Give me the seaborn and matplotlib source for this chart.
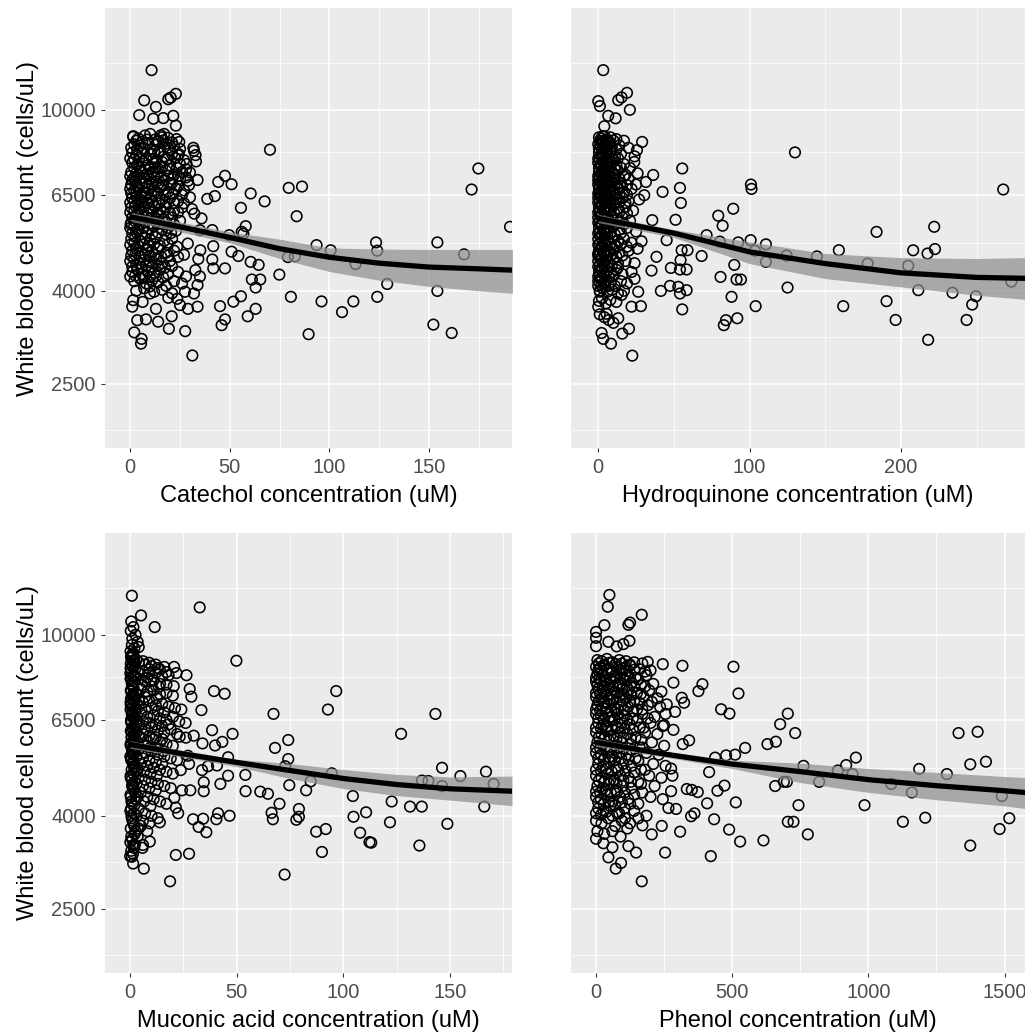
import numpy as np
import pandas as pd
import matplotlib
matplotlib.use("Agg")
import matplotlib.pyplot as plt
import seaborn as sns
from matplotlib.ticker import FixedLocator, NullFormatter

# ---------------- data ----------------
y_ticks = [2500, 4000, 6500, 10000]
y_tick_labels = ["2500", "4000", "6500", "10000"]
y_minor = [1976, 3162, 5099, 8062, 12700]

# Catechol
catechol_sparse = [
    (70.2, 8170), (174.9, 7430), (171.5, 6680), (190.8, 5530), (79.6, 6735), (86.3, 6780),
    (83.6, 5834), (67.5, 6290), (60.5, 6546), (55.6, 6088), (47.6, 7159), (50.9, 6860),
    (44.2, 6940), (42.5, 6460), (38.7, 6370), (33.8, 7010), (32, 8130), (33, 7700),
    (58, 5548), (56, 5390), (49.7, 5300), (50.9, 4876), (54.3, 4770), (41.7, 5013),
    (41.2, 4685), (41.7, 4480), (47.6, 4480), (60.5, 4630), (64.5, 4560), (61.1, 4234),
    (65.3, 4234), (63, 4066), (74.9, 4340), (79.2, 4744), (82.7, 4760), (93.6, 5040),
    (100.7, 4910), (113.2, 4580), (123.5, 5110), (124.1, 4900), (129.1, 4140), (154.3, 5110),
    (167.7, 4810), (154.3, 3997), (80.7, 3879), (96.1, 3790), (112.1, 3790), (106.4, 3590),
    (124.1, 3879), (89.6, 3210), (152.3, 3370), (161.5, 3230), (51.8, 3785), (55.6, 3890),
    (59, 3515), (63, 3650), (45.1, 3700), (47.6, 3460), (45.9, 3360), (31.2, 2882),
    (27.6, 3260), (33.8, 3690), (29, 3650), (32, 3945), (32.7, 4440), (35.2, 4910),
    (34.2, 4700), (35, 5436), (35.8, 5770), (32.2, 5910), (35, 4300), (33.8, 4117),
    (28.9, 5080), (56.8, 5340), (41.2, 5440),
    (10.7, 12226), (22.9, 10844), (7, 10490), (19.1, 10550), (20.3, 10640), (12.9, 10150),
    (4.5, 9735), (11.6, 9560), (16.6, 9590), (21.6, 9700), (22.9, 9230), (1.5, 8750),
    (15.4, 8790), (24.6, 8500), (24.4, 7990), (1.5, 3814), (2, 3240), (5.7, 3135),
    (5.4, 3060), (3.5, 3446), (7.9, 3460), (14, 3420), (19.4, 3300), (20.8, 3515),
    (12.9, 3650), (1, 3690), (6.2, 3780), (25, 3720), (23.6, 3840), (19.1, 3860),
    (27.5, 3980), (9.9, 3945), (0.2, 5600), (9.9, 4090),
]
catechol_core = [
    (1.5, 8720), (4, 8650), (7.4, 8780), (12.4, 8600), (15.7, 8700), (19, 8680), (23.3, 8620), (10, 8850), (17, 8850),
    (2, 8400), (5, 8350), (9, 8450), (13, 8380), (18, 8420), (22, 8300), (31.7, 8250), (11, 8200), (20, 8150),
    (1, 8050), (3, 7950), (6, 8020), (10, 7980), (14, 8060), (17, 7900), (21, 8000), (24, 7950), (32.8, 7950),
    (1, 7650), (3.5, 7580), (6, 7700), (9, 7560), (12, 7620), (16, 7680), (20, 7550), (25, 7600), (28.3, 7600), (7.5, 7450), (14, 7420),
    (0.5, 7300), (3, 7250), (5.5, 7350), (8, 7200), (11, 7300), (14, 7250), (18, 7350), (22, 7200), (26, 7300), (30, 7280),
    (1, 7000), (2.5, 6950), (5, 7050), (7.5, 6900), (10, 7020), (13, 6950), (17, 7000), (21, 6900), (25, 7050), (29, 6980), (19, 7150),
    (0, 6700), (2, 6650), (4, 6750), (6.5, 6600), (9, 6700), (12, 6650), (15, 6750), (19, 6600), (23, 6700), (27, 6650), (11, 6850),
    (1, 6400), (3, 6450), (5, 6350), (7, 6420), (10, 6380), (13, 6450), (16, 6350), (20, 6400), (24, 6300), (30, 6420),
    (0.5, 6100), (2.5, 6150), (4.5, 6050), (7, 6120), (9.5, 6080), (12, 6150), (15, 6050), (18, 6120), (22, 6000), (26, 6100), (31, 6050),
    (1, 5800), (3, 5850), (5.5, 5750), (8, 5820), (11, 5780), (14, 5850), (17, 5750), (21, 5800), (25, 5700),
    (0, 5500), (2, 5550), (4, 5450), (6.5, 5520), (9, 5480), (12, 5550), (16, 5450), (19, 5500), (23, 5420),
    (0.5, 5200), (2.5, 5250), (5, 5150), (7.5, 5220), (10, 5180), (13, 5250), (17, 5150), (21, 5200),
    (1, 4900), (3, 4950), (6, 4850), (8.5, 4920), (11, 4880), (14, 4950), (18, 4850), (22, 4900), (27, 4800),
    (0, 4650), (2, 4700), (4.5, 4600), (7, 4680), (10, 4620), (13, 4700), (16, 4600), (20, 4650),
    (1, 4400), (3.5, 4450), (6, 4350), (9, 4420), (12, 4380), (15, 4450), (19, 4350), (24, 4400), (28, 4300),
    (2, 4200), (5, 4250), (8, 4150), (11, 4220), (14, 4180), (18, 4100), (22, 4200), (26, 4150),
    (3, 4000), (7, 4050), (12, 3980), (16, 4020), (21, 3950),
]
catechol_core2 = [
    (3, 8550), (6, 8500), (8.5, 8600), (14, 8520), (16.5, 8560), (21, 8480),
    (0.5, 8250), (3.5, 8180), (7, 8230), (12, 8100), (15, 8150), (19, 8250), (25, 8200),
    (0, 7820), (2, 7780), (4.5, 7850), (8, 7760), (11.5, 7800), (13, 7720), (18.5, 7780), (22.5, 7830), (27, 7750),
    (2, 7450), (4.5, 7480), (10, 7430), (12.5, 7470), (16, 7500), (19.5, 7420), (23.5, 7460), (28, 7400),
    (0, 7150), (2, 7100), (4, 7180), (6.5, 7080), (9, 7150), (12, 7120), (15.5, 7100), (21, 7050), (24, 7150), (28, 7100),
    (0.5, 6850), (3.5, 6820), (6, 6880), (8.5, 6800), (14, 6870), (16.5, 6820), (20, 6880), (24, 6800), (29.5, 6830),
    (0.5, 6550), (3, 6560), (5, 6500), (8, 6540), (10.5, 6520), (14, 6560), (17.5, 6500), (21.5, 6540), (26, 6500),
    (0, 6250), (2, 6280), (4, 6230), (6, 6260), (8.5, 6240), (11, 6270), (14.5, 6220), (18, 6260), (22, 6240), (27, 6230),
    (0, 5950), (2, 5980), (4, 5920), (6, 5960), (8.5, 5930), (10.5, 5990), (13.5, 5940), (16.5, 5960), (20, 5920), (24, 5950),
    (0.5, 5650), (2.5, 5680), (4.5, 5620), (7, 5660), (10, 5630), (13, 5680), (15, 5620), (18, 5650), (22, 5600),
    (1, 5350), (3, 5380), (5.5, 5320), (8, 5360), (11, 5330), (14, 5370), (18, 5320), (20.5, 5360),
    (0, 5050), (2, 5080), (4, 5020), (6.5, 5060), (9, 5030), (12, 5070), (15, 5020), (19, 5060), (23.5, 5000),
    (0.5, 4780), (2.5, 4800), (5, 4760), (7.5, 4790), (9.5, 4770), (12, 4800), (15.5, 4760), (19, 4780), (24, 4750),
    (1, 4520), (3, 4550), (5.5, 4500), (8, 4530), (11, 4510), (14, 4540), (17.5, 4500), (21, 4530),
    (0, 4300), (2.5, 4320), (4.5, 4280), (7, 4300), (10, 4290), (13, 4310), (16.5, 4280),
]
catechol_fit_x = [0.7, 25, 50, 75, 100, 125, 150, 175, 192]
catechol_fit_y = [5810, 5530, 5240, 4950, 4740, 4600, 4510, 4470, 4440]
catechol_fit_lo = [5680, 5390, 5100, 4710, 4410, 4220, 4090, 4000, 3950]
catechol_fit_hi = [5940, 5670, 5390, 5195, 4970, 4940, 4930, 4930, 4930]

# Hydroquinone
hydroquinone_sparse = [
    (130, 8060), (267.6, 6680), (55.5, 7430), (54, 6735), (54.6, 6240), (42.5, 6600),
    (36.3, 7190), (51.1, 5730), (35.7, 5719), (100.9, 6850), (101.3, 6700), (89.2, 6060),
    (79.3, 5850), (82.2, 5560), (71.6, 5300), (80.4, 5130), (92.5, 5110), (100.7, 5168),
    (110.8, 5060), (103.5, 4900), (68.3, 4770), (89.9, 4560), (110.8, 4630), (124.4, 4780),
    (144.5, 4760), (159, 4912), (183.9, 5390), (178, 4590), (208.1, 4910), (217.6, 4830),
    (222.5, 4940), (222, 5530), (204.8, 4540), (211.5, 4012), (234.1, 3960), (249.6, 3890),
    (247.1, 3730), (243.4, 3450), (218, 3120), (196.5, 3450), (190.5, 3795), (161.9, 3700),
    (125.1, 4066), (104, 3700), (88.1, 3879), (80.8, 4290), (91.4, 4234), (94.3, 4234),
    (91.9, 3480), (84.4, 3446), (83, 3360), (55.5, 3640), (54, 3945), (58.4, 4012),
    (52.9, 4080), (47.4, 4100), (41.4, 3997), (48, 4490), (54, 4455), (58.4, 4455),
    (54.4, 4670), (55.1, 4912), (59, 4912), (38.5, 4750), (45.2, 5168), (273, 4190),
    (31.5, 6940), (29, 8500), (25.6, 8152), (23.8, 7680), (19, 10900), (20.9, 10000),
    (13.2, 10500), (15.4, 10650), (3.3, 12226), (0, 10450), (1.1, 10190), (6.6, 9700),
    (11.5, 9580), (4, 9200), (2.9, 8750), (8.4, 3060), (22.5, 2880), (2.2, 3230),
    (3.3, 3135), (15.9, 3220), (20.3, 3300), (22, 3690), (28.2, 3700), (26.4, 3980),
    (15.4, 3915), (0, 3690), (1.1, 3980), (5.5, 3560), (13.2, 3480), (0, 4830),
    (35.2, 4430), (30.4, 6490), (28.6, 5140),
]
hydroquinone_core = [
    (0.5, 8700), (2, 8650), (4, 8750), (6, 8600), (8, 8700), (12, 8620), (17, 8550),
    (0, 8400), (1.5, 8350), (3, 8450), (5, 8380), (7, 8420), (9, 8300), (14, 8350), (20, 8250),
    (0.5, 8050), (2, 7950), (3.5, 8020), (5.5, 7980), (8, 8060), (11, 7900), (15, 8000), (24, 7900),
    (0, 7650), (1.5, 7580), (3, 7700), (4.5, 7560), (6.5, 7620), (9, 7680), (12, 7550), (17, 7600), (21, 7450),
    (0.5, 7300), (2, 7250), (3.5, 7350), (5, 7200), (7, 7300), (10, 7250), (13, 7350), (18, 7200), (26, 7250),
    (0, 7000), (1.5, 6950), (3, 7050), (4.5, 6900), (6, 7020), (8.5, 6950), (11, 7000), (15, 6900), (20, 7050), (25, 6850),
    (0.5, 6700), (2, 6650), (3.5, 6750), (5, 6600), (7, 6700), (9.5, 6650), (13, 6750), (17, 6600), (22, 6700),
    (0, 6400), (1.5, 6450), (3, 6350), (4.5, 6420), (6.5, 6380), (9, 6450), (12, 6350), (16, 6400), (20, 6300), (27, 6350),
    (0.5, 6100), (2, 6150), (3.5, 6050), (5, 6120), (7, 6080), (10, 6150), (13, 6050), (18, 6120), (23, 6000),
    (0, 5800), (1.5, 5850), (3, 5750), (4.5, 5820), (6.5, 5780), (9, 5850), (12, 5750), (16, 5800), (21, 5700),
    (0.5, 5500), (2, 5550), (3.5, 5450), (5, 5520), (7, 5480), (10, 5550), (14, 5450), (19, 5500), (25, 5400),
    (0, 5200), (1.5, 5250), (3, 5150), (4.5, 5220), (6.5, 5180), (9, 5250), (13, 5150), (17, 5200), (22, 5100),
    (0.5, 4900), (2, 4950), (3.5, 4850), (5, 4920), (7.5, 4880), (10, 4950), (14, 4850), (20, 4900), (26, 4950),
    (0, 4650), (1.5, 4700), (3, 4600), (5, 4680), (7, 4620), (10, 4700), (13, 4600), (18, 4650), (24, 4600),
    (0.5, 4400), (2, 4450), (4, 4350), (6, 4420), (8.5, 4380), (12, 4450), (16, 4350), (22, 4400),
    (0, 4200), (1.5, 4250), (3.5, 4150), (5.5, 4220), (8, 4180), (11, 4100), (15, 4200), (19, 4150), (24, 4250),
    (1, 4000), (3, 4050), (6, 3980), (9, 4020), (13, 3950), (17, 4000),
    (0.5, 3800), (2.5, 3850), (5, 3750), (8, 3820), (12, 3780),
    (1, 3550), (4, 3500), (7, 3450), (10, 3400),
]
hydroquinone_core2 = [
    (1, 8550), (3, 8520), (5, 8580), (7.5, 8500), (10, 8560),
    (0.5, 8220), (2.5, 8180), (4, 8250), (6, 8150), (8.5, 8200), (12, 8180),
    (0, 7820), (1, 7780), (2.5, 7850), (4.5, 7760), (6, 7800), (7.5, 7720), (10, 7780), (13, 7830),
    (0.5, 7450), (2, 7480), (4, 7430), (5.5, 7470), (8, 7500), (11, 7420), (15, 7460),
    (0, 7150), (1, 7100), (2.5, 7180), (4, 7080), (5.5, 7150), (7.5, 7120), (10, 7100), (14, 7050), (17, 7150),
    (0, 6850), (1, 6820), (2.5, 6880), (4, 6800), (6, 6870), (8, 6820), (11, 6880), (14.5, 6800), (19, 6830),
    (0, 6550), (1, 6560), (2.5, 6500), (4, 6540), (6, 6520), (8, 6560), (11, 6500), (14, 6540), (19, 6500),
    (0, 6250), (1, 6280), (2.5, 6230), (4, 6260), (5.5, 6240), (8, 6270), (10.5, 6220), (14, 6260), (18, 6240),
    (0, 5950), (1, 5980), (2.5, 5920), (4, 5960), (5.5, 5930), (8, 5990), (10.5, 5940), (14, 5960), (19, 5920),
    (0, 5650), (1, 5680), (2.5, 5620), (4, 5660), (6, 5630), (8, 5680), (11, 5620), (14, 5650), (17, 5600),
    (0, 5350), (1, 5380), (2.5, 5320), (4, 5360), (6, 5330), (8, 5370), (11, 5320), (15, 5360),
    (0, 5050), (1, 5080), (2.5, 5020), (4, 5060), (5.5, 5030), (8, 5070), (11, 5020), (15, 5060), (19, 5000),
    (0, 4780), (1, 4800), (2.5, 4760), (4, 4790), (6, 4770), (8.5, 4800), (12, 4760), (16, 4780),
    (0, 4520), (1, 4550), (2.5, 4500), (4, 4530), (6, 4510), (9, 4540), (13, 4500),
    (0, 4300), (1, 4320), (2.5, 4280), (4.5, 4300), (7, 4290), (10, 4310),
    (0, 4100), (2, 4120), (4.5, 4080), (7, 4100),
]
hydroquinone_fit_x = [0, 50, 100, 150, 200, 250, 282]
hydroquinone_fit_y = [5770, 5355, 4870, 4590, 4380, 4280, 4260]
hydroquinone_fit_lo = [5650, 5240, 4590, 4255, 4080, 3910, 3830]
hydroquinone_fit_hi = [5890, 5450, 5125, 4830, 4730, 4710, 4730]

# Muconic acid
muconic_sparse = [
    (0.8, 12190), (5.1, 11030), (11.5, 10400), (32.6, 11490), (49.8, 8770), (96.6, 7520),
    (92.7, 6850), (67.2, 6700), (143.1, 6700), (127, 6056), (74.1, 5870), (67.9, 5640),
    (74.1, 5330), (72.7, 5140), (94.5, 4960), (84.6, 4760), (82.5, 4550), (74.6, 4670),
    (61, 4520), (64.6, 4470), (54, 4920), (54.1, 4530), (70, 4250), (66.3, 4060),
    (66.9, 3930), (79.1, 4140), (79.1, 3980), (77.9, 3920), (87.2, 3690), (91.7, 3740),
    (89.9, 3330), (72.4, 2970), (104.4, 4420), (104.7, 3980), (110.6, 4070), (107.8, 3670),
    (112.2, 3500), (113, 3490), (121.8, 3870), (122.6, 4300), (131.2, 4190), (136.7, 4190),
    (135.6, 3440), (148.7, 3840), (146.2, 5100), (146.2, 4650), (136.8, 4780), (139.8, 4770),
    (154.8, 4890), (166.8, 5000), (170.4, 4700), (166, 4190), (38.4, 6170), (48, 6056),
    (39.8, 5710), (43.2, 5815), (39.3, 7520), (44.3, 7420), (33.4, 6830), (27.9, 7600),
    (28.7, 7310), (26.4, 8150), (21.7, 8240), (20.6, 8500), (17, 8280), (20.4, 7710),
    (17, 7770), (13.4, 7690), (13.9, 8400), (8.9, 8680), (9.8, 7920), (45.9, 4900),
    (42.3, 4700), (34.5, 4740), (34.5, 4530), (33.7, 5040), (36.5, 5140), (40.7, 5160),
    (45.9, 5380), (33.9, 5770), (29.8, 6000), (26.1, 5940), (27.1, 5420), (27.6, 5200),
    (23.7, 5040), (23.2, 5970), (28.2, 4550), (24.3, 4550), (20.7, 4380), (21.4, 4170),
    (22.5, 4050), (29.5, 3930), (34.2, 3940), (32.1, 3780), (35.7, 3680), (41.2, 4050),
    (40.4, 3930), (46.6, 4000), (13.9, 3870), (21.4, 3280), (27.6, 3300), (18.7, 2870),
    (6.4, 3060), (1.4, 3140), (0, 3260), (9.2, 3510), (5.8, 3400), (2.2, 3450),
    (0.5, 10700), (1.5, 10400), (0.3, 10200), (2.5, 10000), (1.0, 9800), (3.5, 9650),
    (0.8, 9500), (2.0, 9350), (4.0, 9400),
]
muconic_core = [
    (0.2, 9200), (1.0, 9050), (0.5, 8900), (1.8, 8800), (0.3, 8650), (1.2, 8500), (2.3, 8400),
    (0.6, 8300), (1.5, 8150), (0.2, 8000), (2.0, 7900), (0.8, 7800), (1.6, 7650), (0.3, 7550),
    (2.5, 7450), (1.0, 7350), (0.4, 7250), (1.9, 7150), (0.7, 7050), (1.3, 6950), (0.2, 6850),
    (2.2, 6750), (0.9, 6650), (1.6, 6550), (0.4, 6450), (2.8, 6350), (1.1, 6250), (0.3, 6150),
    (1.9, 6050), (0.6, 5950), (1.4, 5850), (0.2, 5750), (2.4, 5650), (0.9, 5550), (1.7, 5450),
    (0.4, 5350), (1.2, 5250), (2.1, 5150), (0.7, 5050), (1.5, 4950), (0.3, 4850), (2.0, 4750),
    (0.9, 4650), (1.6, 4550), (0.2, 4450), (2.6, 4350), (1.0, 4250), (0.5, 4150), (1.8, 4050),
    (0.8, 3950), (1.4, 3850), (0.3, 3750), (2.2, 3650), (0.9, 3550), (1.5, 3450), (0.5, 3350),
    (1.5, 9120), (0.4, 8970), (2.0, 8720), (0.9, 8580), (0.1, 8230), (2.7, 8070), (1.1, 7720),
    (0.5, 7500), (1.9, 7300), (0.2, 7100), (2.6, 6900), (0.8, 6700), (0.4, 6500), (1.9, 6300),
    (0.7, 6100), (2.2, 5900), (0.3, 5700), (1.1, 5500), (0.5, 5300), (1.9, 5100), (0.2, 4900),
    (1.2, 4700), (2.4, 4500), (0.6, 4300), (0.1, 4100), (1.1, 3900), (2.5, 3700), (0.1, 3500),
    (1.3, 3300),
    (4, 8700), (7, 8600), (10, 8550), (13, 8450), (16, 8500), (6, 8300), (9, 8200), (12, 8250),
    (15, 8100), (18, 8150), (4, 8000), (7, 7900), (11, 7950), (14, 7800), (5, 7600), (8, 7500),
    (11, 7550), (14, 7400), (17, 7450), (20, 7350), (4, 7200), (6, 7100), (9, 7150), (12, 7000),
    (15, 7050), (18, 6950), (21, 6900), (24, 6850), (5, 6700), (8, 6600), (11, 6650), (14, 6550),
    (17, 6500), (20, 6600), (23, 6450), (26, 6400), (4, 6300), (7, 6200), (10, 6250), (13, 6150),
    (16, 6100), (19, 6200), (22, 6050), (5, 5950), (8, 5850), (11, 5900), (14, 5800), (17, 5750),
    (20, 5700), (4, 5600), (7, 5500), (10, 5550), (13, 5450), (16, 5400), (19, 5350), (22, 5300),
    (5, 5200), (8, 5150), (11, 5100), (14, 5050), (17, 5000), (20, 4950), (4, 4850), (7, 4800),
    (10, 4750), (13, 4700), (16, 4650), (19, 4600), (5, 4500), (8, 4400), (11, 4350), (14, 4300),
    (17, 4250), (4, 4150), (7, 4050), (10, 4000), (13, 3950), (5, 3800), (8, 3700), (3.5, 3600),
    (6, 3450),
]
muconic_core2 = [
    (0.6, 9000), (1.4, 8750), (0.2, 8450), (1.7, 8100), (0.9, 7950), (1.4, 7400), (0.3, 7000),
    (1.1, 6800), (2.0, 6600), (0.6, 6400), (1.3, 6200), (2.1, 6000), (0.6, 5800), (1.7, 5600),
    (0.1, 5400), (1.4, 5200), (2.7, 5000), (0.7, 4800), (1.5, 4600), (0.3, 4400), (1.8, 4200),
    (0.6, 4000), (1.9, 3800), (0.5, 3600), (1.8, 3400), (0.8, 3250),
    (3, 8800), (6, 8750), (9, 8400), (12, 8600), (3.5, 8300), (8, 8050), (5.5, 7750), (10, 7700),
    (3, 7400), (7, 7300), (12.5, 7250), (4, 6950), (7, 6850), (10, 6900), (13, 6800), (16, 6750),
    (3, 6500), (6, 6450), (9, 6400), (12, 6350), (15, 6300), (18, 6350), (3, 6100), (6, 6050),
    (9, 6000), (12, 5950), (15, 5900), (3.5, 5800), (6.5, 5700), (9.5, 5650), (12.5, 5600),
    (15.5, 5550), (3, 5400), (6, 5350), (9, 5300), (12, 5250), (15, 5200), (3.5, 5050),
    (6.5, 5000), (9.5, 4950), (12.5, 4900), (3, 4700), (6, 4650), (9, 4600), (12, 4550),
    (3.5, 4400), (6.5, 4300), (9.5, 4200), (3, 4000), (6, 3900), (4, 3750), (9, 3850),
]
muconic_fit_x = [0, 25, 50, 75, 100, 125, 150, 179]
muconic_fit_y = [5740, 5470, 5240, 5030, 4830, 4685, 4585, 4530]
muconic_fit_lo = [5630, 5380, 5130, 4830, 4590, 4430, 4330, 4210]
muconic_fit_hi = [5850, 5570, 5325, 5210, 5055, 4930, 4870, 4890]

# Phenol
phenol_sparse = [
    (49, 12240), (42.9, 11530), (167.8, 11070), (30.6, 10500), (118.8, 10520), (124.9, 10640),
    (0, 10150), (0, 9850), (45.3, 9650), (75.9, 9430), (100.4, 9540), (122.5, 9700), (0, 9440),
    (189.8, 8720), (244.9, 8620), (317.2, 8550), (504.5, 8510), (284.1, 7850), (390.6, 7790),
    (375.9, 7520), (522.9, 7430), (314.7, 7270), (323.3, 7090), (259.6, 7030), (290.2, 6770),
    (459.2, 6860), (489.8, 6710), (704.1, 6710), (676, 6360), (731.1, 6080), (1331, 6080),
    (1401, 6120), (660.1, 5820), (629.4, 5750), (547.4, 5640), (341.7, 5860), (318.4, 5750),
    (284.1, 6180), (249.8, 6330), (437.2, 5370), (477.6, 5430), (510.7, 5450), (415.2, 4990),
    (761.7, 5150), (887.8, 5030), (918.4, 5170), (954, 5370), (941.7, 4940), (1186.6, 5070),
    (1288.3, 4940), (1374, 5190), (1431.6, 5260), (1490, 4420), (1517.3, 3950), (1481.8, 3740),
    (1374, 3440), (1208.7, 3960), (1126.6, 3880), (1159.7, 4500), (1083.8, 4700), (985.8, 4220),
    (819.3, 4750), (777.6, 3640), (743.3, 4220), (725, 3880), (704.1, 3880), (700.5, 4750),
    (689.5, 4750), (657.7, 4650), (614.7, 3530), (529, 3510), (488.6, 3730), (513.1, 4280),
    (471.5, 4660), (445.8, 4540), (433.5, 3930), (421.3, 3260), (407.8, 4260), (373.5, 4510),
    (351.5, 4560), (333.2, 4580), (361.3, 4050), (349.1, 3990), (308.6, 3690), (253.5, 3320),
    (293.9, 4140), (265.7, 4160), (241.2, 3800), (204.5, 3640), (167.8, 2870), (147, 3320),
    (118.8, 3430), (91.8, 3150), (72.3, 3060), (45.3, 3240), (60, 3410), (0, 3560),
    (26.9, 3480), (275.5, 4530), (280.4, 4900), (275.5, 5080), (106.5, 3950), (155.5, 3950),
    (170.2, 3810),
]
phenol_core = [
    (5, 8800), (20, 8750), (40, 8850), (60, 8700), (85, 8800), (110, 8750), (140, 8700), (170, 8650),
    (0, 8500), (15, 8450), (30, 8550), (50, 8400), (75, 8500), (100, 8450), (125, 8550), (160, 8400), (200, 8350),
    (5, 8200), (25, 8150), (45, 8250), (65, 8100), (90, 8200), (115, 8150), (145, 8050), (185, 8150),
    (0, 7900), (18, 7950), (35, 7850), (55, 7900), (80, 7800), (105, 7950), (130, 7850), (165, 7750), (210, 7800),
    (8, 7600), (28, 7550), (48, 7650), (70, 7500), (95, 7600), (120, 7550), (150, 7450), (195, 7550), (240, 7500),
    (0, 7300), (20, 7250), (40, 7350), (62, 7200), (85, 7300), (110, 7250), (140, 7150), (175, 7300), (225, 7250),
    (5, 7000), (25, 6950), (45, 7050), (68, 6900), (92, 7000), (118, 6950), (150, 6850), (190, 7000), (235, 6950),
    (0, 6700), (18, 6650), (38, 6750), (58, 6600), (80, 6700), (105, 6650), (135, 6550), (170, 6700), (215, 6600), (255, 6700),
    (8, 6400), (28, 6350), (50, 6450), (72, 6300), (95, 6400), (125, 6350), (160, 6250), (200, 6400), (245, 6300),
    (0, 6100), (20, 6050), (42, 6150), (65, 6000), (88, 6100), (115, 6050), (145, 5950), (180, 6100), (225, 6050),
    (5, 5800), (25, 5750), (48, 5850), (70, 5700), (95, 5800), (125, 5750), (160, 5650), (205, 5800), (250, 5700),
    (0, 5500), (18, 5450), (40, 5550), (60, 5400), (85, 5500), (112, 5450), (145, 5350), (185, 5500), (230, 5450),
    (8, 5200), (28, 5150), (50, 5250), (75, 5100), (100, 5200), (130, 5150), (165, 5050), (210, 5200), (255, 5150),
    (0, 4900), (20, 4850), (42, 4950), (65, 4800), (90, 4900), (120, 4850), (155, 4750), (195, 4900), (240, 4850),
    (5, 4650), (25, 4600), (48, 4700), (72, 4550), (98, 4650), (130, 4600), (170, 4500), (215, 4650),
    (0, 4400), (18, 4350), (40, 4450), (62, 4300), (88, 4400), (118, 4350), (155, 4250), (200, 4400), (245, 4350),
    (8, 4150), (28, 4100), (52, 4200), (78, 4050), (105, 4150), (140, 4100), (185, 4000),
    (0, 3900), (20, 3850), (45, 3950), (70, 3800), (95, 3900), (125, 3850),
    (5, 3700), (30, 3650), (60, 3700), (90, 3600), (115, 3750),
]
phenol_core2 = [
    (10, 8650), (30, 8600), (50, 8680), (72, 8620), (95, 8650), (125, 8600),
    (8, 8350), (22, 8320), (40, 8380), (60, 8300), (88, 8350), (112, 8320), (140, 8380), (180, 8300),
    (0, 8050), (12, 8020), (32, 8080), (52, 8000), (75, 8050), (100, 8020), (125, 8050), (155, 7980),
    (5, 7750), (25, 7720), (42, 7780), (62, 7700), (88, 7750), (112, 7720), (140, 7680), (180, 7700),
    (0, 7450), (15, 7420), (35, 7480), (55, 7400), (78, 7450), (100, 7420), (130, 7380), (165, 7420),
    (10, 7150), (30, 7120), (50, 7180), (75, 7100), (98, 7150), (125, 7100), (160, 7080), (205, 7120),
    (0, 6850), (15, 6820), (35, 6880), (55, 6800), (80, 6850), (105, 6820), (135, 6780), (170, 6850),
    (8, 6550), (28, 6520), (48, 6580), (68, 6500), (90, 6550), (115, 6520), (150, 6480), (190, 6550),
    (0, 6250), (18, 6220), (38, 6280), (58, 6200), (80, 6250), (105, 6220), (135, 6180), (175, 6250),
    (10, 5950), (30, 5920), (52, 5980), (75, 5900), (100, 5950), (128, 5920), (165, 5880),
    (0, 5650), (15, 5620), (35, 5680), (55, 5600), (78, 5650), (100, 5620), (132, 5580), (170, 5650),
    (8, 5350), (28, 5320), (48, 5380), (70, 5300), (92, 5350), (120, 5320), (155, 5280),
    (0, 5050), (18, 5020), (38, 5080), (58, 5000), (82, 5050), (108, 5020), (140, 4980), (180, 5050),
    (10, 4780), (30, 4750), (52, 4800), (75, 4720), (100, 4780), (128, 4750), (165, 4700),
    (0, 4520), (15, 4500), (35, 4550), (55, 4480), (78, 4520), (105, 4500), (140, 4450),
    (8, 4280), (28, 4250), (48, 4300), (70, 4220), (95, 4280), (125, 4250),
    (0, 4050), (18, 4020), (38, 4080), (60, 4000), (85, 4050),
]
phenol_fit_x = [0, 253, 501, 752, 1003, 1255, 1500, 1576]
phenol_fit_y = [5800, 5465, 5195, 5000, 4800, 4655, 4540, 4500]
phenol_fit_lo = [5680, 5385, 5080, 4730, 4500, 4335, 4205, 4150]
phenol_fit_hi = [5920, 5545, 5300, 5220, 5080, 4980, 4880, 4855]

# ---------------- figure ----------------
sns.set_theme(style="darkgrid")
plt.rcParams["font.family"] = ["Liberation Sans", "DejaVu Sans"]

W, H = 1025, 1033
fig = plt.figure(figsize=(W / 100, H / 100), dpi=100)
fig.patch.set_facecolor("white")

def rect(l, t, r, b):
    return [l / W, 1 - b / H, (r - l) / W, (b - t) / H]

panels = [
    dict(pts=catechol_sparse + catechol_core + catechol_core2, fx=catechol_fit_x, fy=catechol_fit_y,
         lo=catechol_fit_lo, hi=catechol_fit_hi, xlim=(-12.7, 191.8),
         xt=[0, 50, 100, 150], xm=[25, 75, 125, 175],
         xlabel="Catechol concentration (uM)", box=(105, 8, 512, 448), left=True),
    dict(pts=hydroquinone_sparse + hydroquinone_core + hydroquinone_core2, fx=hydroquinone_fit_x,
         fy=hydroquinone_fit_y, lo=hydroquinone_fit_lo, hi=hydroquinone_fit_hi, xlim=(-18, 282),
         xt=[0, 100, 200], xm=[50, 150, 250],
         xlabel="Hydroquinone concentration (uM)", box=(571, 8, 1025, 448), left=False),
    dict(pts=muconic_sparse + muconic_core + muconic_core2, fx=muconic_fit_x, fy=muconic_fit_y,
         lo=muconic_fit_lo, hi=muconic_fit_hi, xlim=(-11.8, 179),
         xt=[0, 50, 100, 150], xm=[25, 75, 125, 175],
         xlabel="Muconic acid concentration (uM)", box=(105, 533, 512, 973), left=True),
    dict(pts=phenol_sparse + phenol_core + phenol_core2, fx=phenol_fit_x, fy=phenol_fit_y,
         lo=phenol_fit_lo, hi=phenol_fit_hi, xlim=(-92, 1575),
         xt=[0, 500, 1000, 1500], xm=[250, 750, 1250],
         xlabel="Phenol concentration (uM)", box=(571, 533, 1025, 973), left=False),
]

for p in panels:
    ax = fig.add_axes(rect(*p["box"]))
    df = pd.DataFrame(p["pts"], columns=["conc", "wbc"])
    sns.scatterplot(data=df, x="conc", y="wbc", ax=ax, marker="o", s=58,
                    color="black", facecolors="none", edgecolor="black",
                    linewidth=1.15, zorder=3)
    ax.fill_between(p["fx"], p["lo"], p["hi"], color="#8e8e8e", alpha=0.72,
                    linewidth=0, zorder=4)
    fit = pd.DataFrame({"conc": p["fx"], "wbc": p["fy"]})
    sns.lineplot(data=fit, x="conc", y="wbc", ax=ax, color="black",
                 linewidth=3.8, estimator=None, sort=False, zorder=5)

    ax.set_yscale("log")
    ax.set_ylim(1804, 16747)
    ax.set_xlim(*p["xlim"])
    ax.set_facecolor("#EBEBEB")
    for s in ax.spines.values():
        s.set_visible(False)

    ax.yaxis.set_major_locator(FixedLocator(y_ticks))
    ax.set_yticklabels(y_tick_labels)
    ax.yaxis.set_minor_locator(FixedLocator(y_minor))
    ax.yaxis.set_minor_formatter(NullFormatter())
    ax.xaxis.set_major_locator(FixedLocator(p["xt"]))
    ax.set_xticklabels([str(v) for v in p["xt"]])
    ax.xaxis.set_minor_locator(FixedLocator(p["xm"]))

    ax.grid(which="major", color="white", linewidth=1.1)
    ax.grid(which="minor", color="white", linewidth=0.55)
    ax.set_axisbelow(True)

    ax.tick_params(which="minor", length=0)
    ax.tick_params(axis="both", which="major", length=3, width=0.8, color="#333333",
                   labelsize=14.4, labelcolor="#4D4D4D")
    ax.tick_params(axis="x", which="major", pad=4, bottom=True)
    ax.tick_params(axis="y", which="major", pad=3.5, left=True)
    if not p["left"]:
        ax.tick_params(axis="y", which="both", left=False, labelleft=False)
        ax.set_ylabel("")
    else:
        ax.set_ylabel("White blood cell count (cells/uL)", fontsize=17, color="black", labelpad=1)
    ax.set_xlabel(p["xlabel"], fontsize=17, color="black", labelpad=6)
    leg = ax.get_legend()
    if leg is not None:
        leg.remove()

fig.savefig("out.png", dpi=100, facecolor="white")
